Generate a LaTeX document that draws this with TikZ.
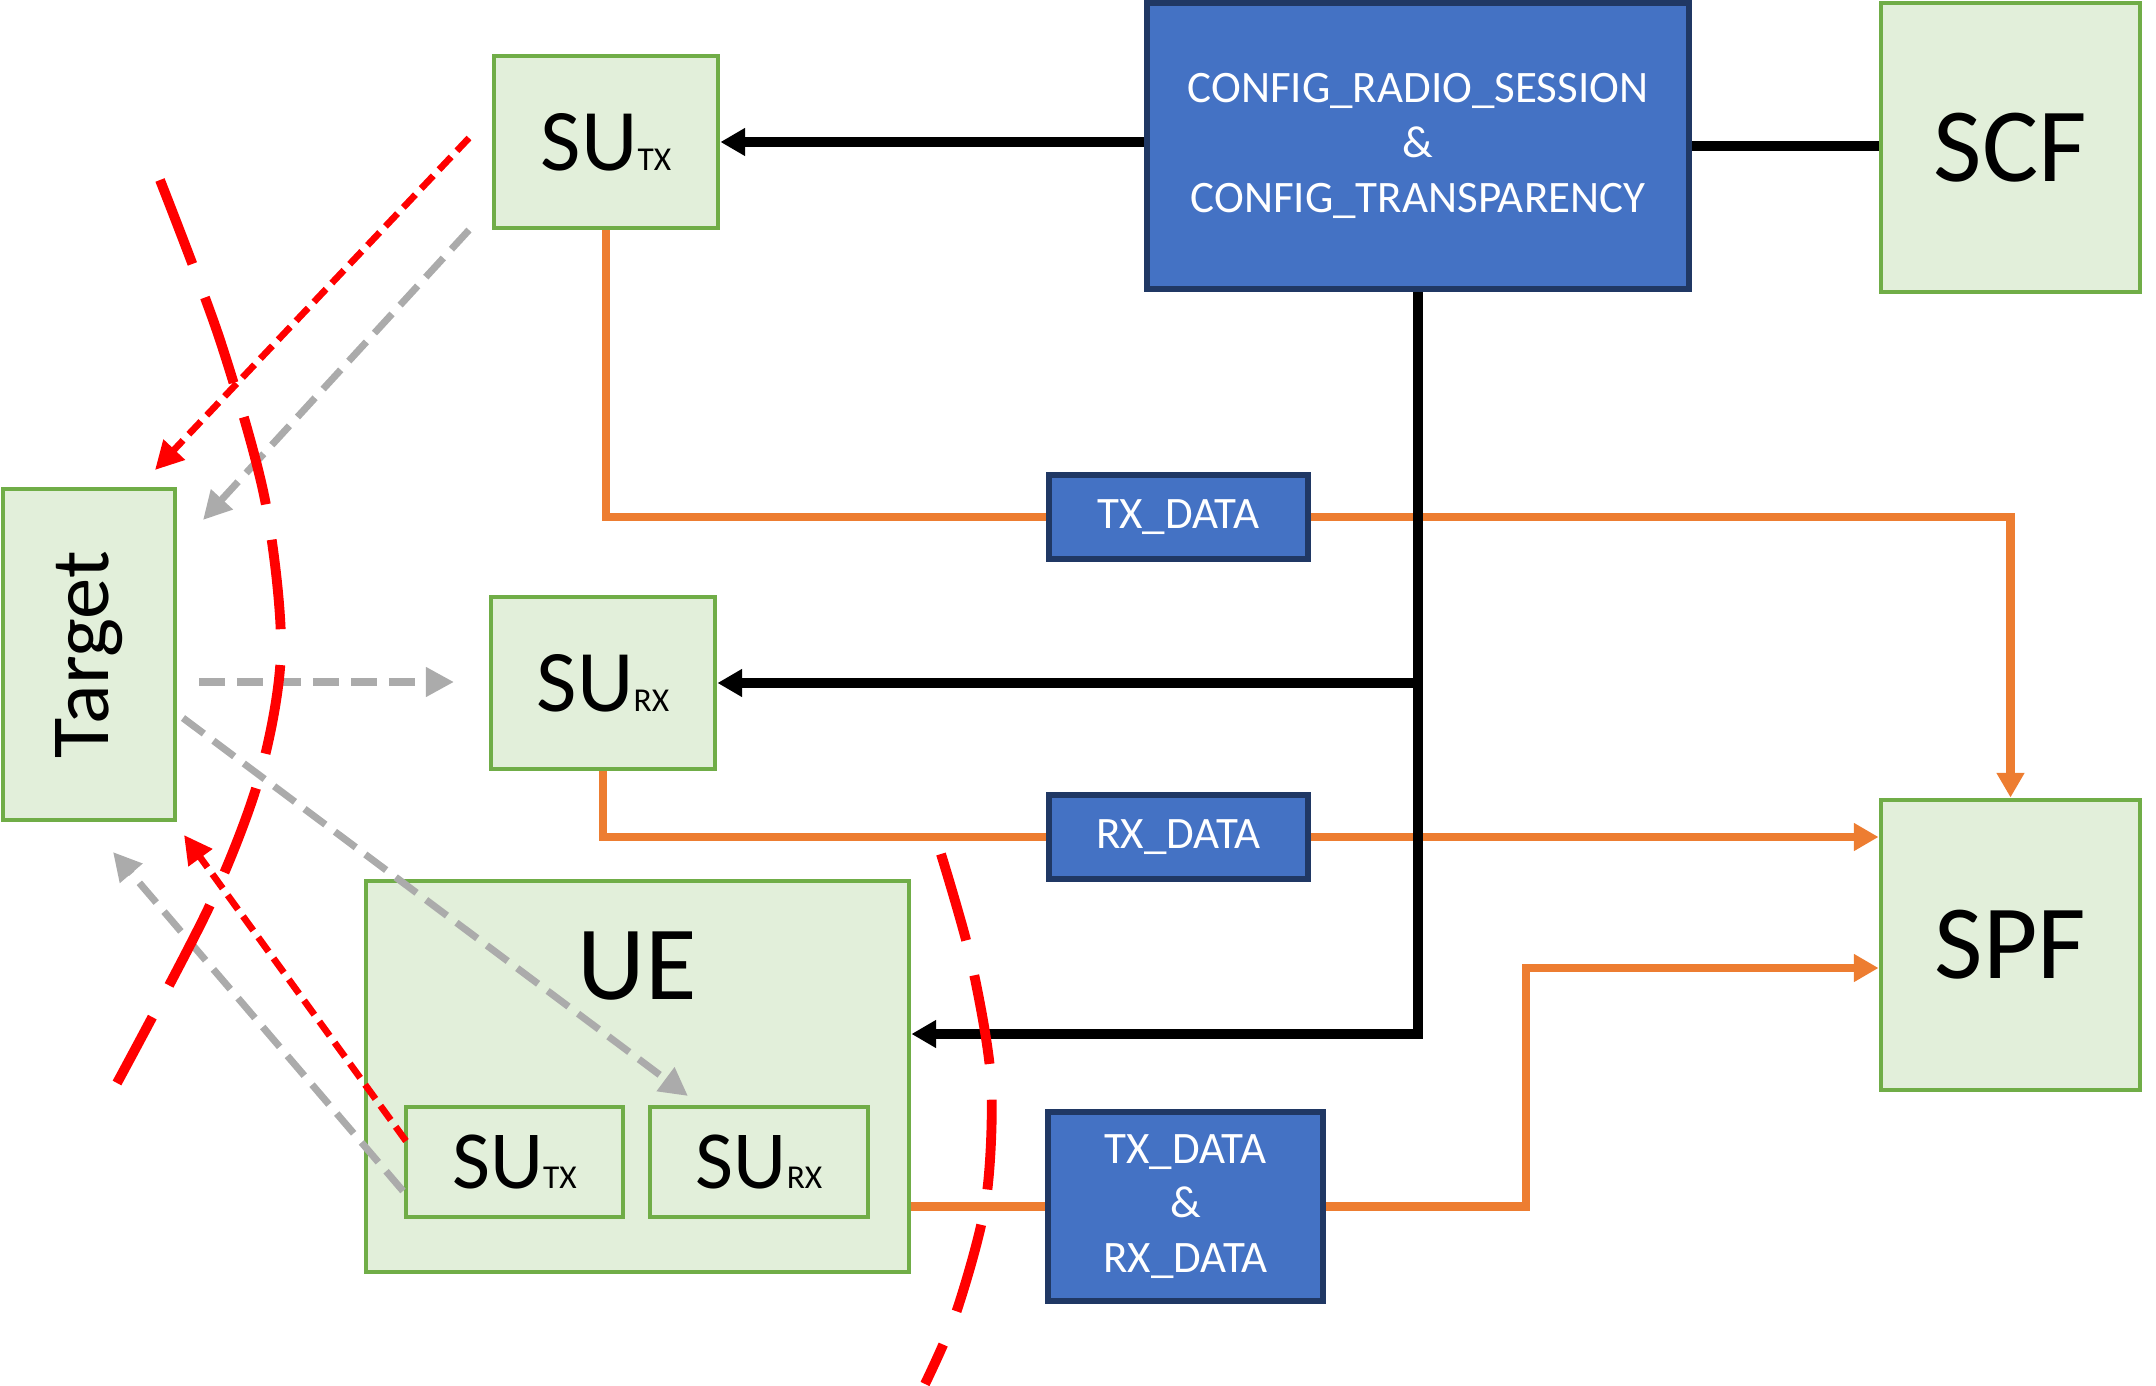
\documentclass[tikz,border=0pt]{standalone}
\usepackage{fontspec}
\setmainfont{Carlito}
\usetikzlibrary{arrows.meta,positioning,calc}
\definecolor{sugreen}{RGB}{112,173,71}
\definecolor{sulightgreen}{RGB}{226,239,218}
\definecolor{sublue}{RGB}{68,114,196}
\definecolor{sunavy}{RGB}{32,56,100}
\definecolor{suorange}{RGB}{237,125,49}
\definecolor{sugrey}{RGB}{171,171,171}
\definecolor{sured}{RGB}{255,0,0}
\newcommand{\subtag}[1]{{\fontsize{9.5}{11}\selectfont #1}}

\begin{document}
\begin{tikzpicture}[
    gbox/.style={rectangle, draw=sugreen, fill=sulightgreen, line width=1.4pt,
                 inner sep=0pt, align=center},
    bbox/.style={rectangle, draw=sunavy, fill=sublue, line width=1.8pt,
                 inner sep=0pt, text=white, align=center,
                 font=\fontsize{12.8}{15.6}\selectfont},
    sulbl/.style={font=\fontsize{25}{30}\selectfont},
    biglbl/.style={font=\fontsize{30}{36}\selectfont},
    ctl/.style={line width=2.6pt, black},
    ctlarr/.style={ctl, -{Triangle[length=7pt,width=7.5pt]}},
    dat/.style={line width=2.3pt, suorange},
    datarr/.style={dat, -{Triangle[length=7pt,width=7.5pt]}},
    echo/.style={line width=2pt, sugrey, dash pattern=on 7.4pt off 3.4pt,
                 -{Triangle[length=8pt,width=8pt]}},
    hit/.style={line width=1.9pt, sured, dash pattern=on 5pt off 2.4pt,
                -{Triangle[length=8pt,width=8pt]}},
    cut/.style={line width=2.8pt, sured, dash pattern=on 25.6pt off 10.2pt},
  ]
  \useasboundingbox (0,0) rectangle (21.56,-13.86);

  % Kontrola
  \node[bbox, minimum width=5.42cm, minimum height=2.86cm] (config) at (14.18,-1.46)
    {CONFIG\_RADIO\_SESSION\\\&\\CONFIG\_TRANSPARENCY};
  \node[gbox, biglbl, minimum width=2.59cm, minimum height=2.89cm] (scf) at (20.105,-1.475) {SCF};
  \node[gbox, biglbl, minimum width=2.59cm, minimum height=2.90cm] (spf) at (20.105,-9.45) {SPF};

  % Senzorske jedinice
  \node[gbox, sulbl, minimum width=2.24cm, minimum height=1.72cm] (sutx) at (6.06,-1.42) {SU\subtag{TX}};
  \node[gbox, sulbl, minimum width=2.24cm, minimum height=1.72cm] (surx) at (6.03,-6.83) {SU\subtag{RX}};
  \node[gbox, minimum width=1.72cm, minimum height=3.31cm,
        font=\fontsize{23.5}{28}\selectfont] (target) at (0.89,-6.545) {\rotatebox{90}{Target}};

  % UE
  \node[gbox, minimum width=5.43cm, minimum height=3.91cm] (ue) at (6.375,-10.765) {};
  \node[biglbl] (uetitle) at (6.37,-9.66) {UE};
  \node[gbox, minimum width=2.17cm, minimum height=1.10cm,
        font=\fontsize{23.5}{28}\selectfont] (uetx) at (5.145,-11.62) {SU\subtag{TX}};
  \node[gbox, minimum width=2.18cm, minimum height=1.10cm,
        font=\fontsize{23.5}{28}\selectfont] (uerx) at (7.59,-11.62) {SU\subtag{RX}};

  % Podaci
  \node[bbox, minimum width=2.59cm, minimum height=0.84cm] (txdata) at (11.785,-5.17) {TX\_DATA};
  \node[bbox, minimum width=2.59cm, minimum height=0.84cm] (rxdata) at (11.785,-8.37) {RX\_DATA};
  \node[bbox, minimum width=2.75cm, minimum height=1.89cm] (trxdata) at (11.855,-12.065)
    {TX\_DATA\\\&\\RX\_DATA};

  \draw[dat] (sutx.south) |- (txdata.west);
  \draw[datarr] (txdata.east) -| (spf.north);
  \draw[dat] (surx.south) |- (rxdata.west);
  \draw[datarr] (rxdata.east) -- (spf.west |- rxdata.east);
  \draw[dat] (ue.east |- trxdata.west) -- (trxdata.west);
  \coordinate (bend) at (15.26,-9.68);
  \draw[datarr] (trxdata.east) -| (bend) -- (spf.west |- bend);

  % Konfiguracija
  \draw[ctlarr] (config.west |- sutx.east) -- (sutx.east);
  \draw[ctl] (config.east) -- (scf.west |- config.east);
  \draw[ctlarr] (config.south) |- ([yshift=4.25mm]ue.east);
  \draw[ctlarr] (config.south |- surx.east) -- (surx.east);

  % Radio putanje
  \coordinate (e1s) at (4.69,-2.30);  \coordinate (e1e) at (2.03,-5.20);
  \coordinate (e2s) at (1.99,-6.82);  \coordinate (e2e) at (4.54,-6.82);
  \coordinate (e3s) at (1.83,-7.18);  \coordinate (e3e) at (6.88,-10.96);
  \coordinate (e4s) at (4.03,-11.91); \coordinate (e4e) at (1.13,-8.52);
  \coordinate (h1s) at (4.69,-1.38);  \coordinate (h1e) at (1.55,-4.70);
  \coordinate (h2s) at (4.06,-11.41); \coordinate (h2e) at (1.84,-8.35);
  \draw[echo] (e1s) -- (e1e);
  \draw[echo] (e2s) -- (e2e);
  \draw[echo] (e3s) -- (e3e);
  \draw[echo] (e4s) -- (e4e);
  \draw[hit] (h1s) -- (h1e);
  \draw[hit] (h2s) -- (h2e);

  % Granice
  \draw[cut] plot[smooth] coordinates {(1.60,-1.80) (2.20,-3.40) (2.65,-5.00)
    (2.81,-6.50) (2.60,-7.75) (2.10,-9.05) (1.17,-10.83)};
  \draw[cut] plot[smooth] coordinates {(9.41,-8.54) (9.71,-9.60) (9.91,-10.80)
    (9.86,-12.00) (9.57,-13.10) (9.25,-13.84)};
\end{tikzpicture}
\end{document}
